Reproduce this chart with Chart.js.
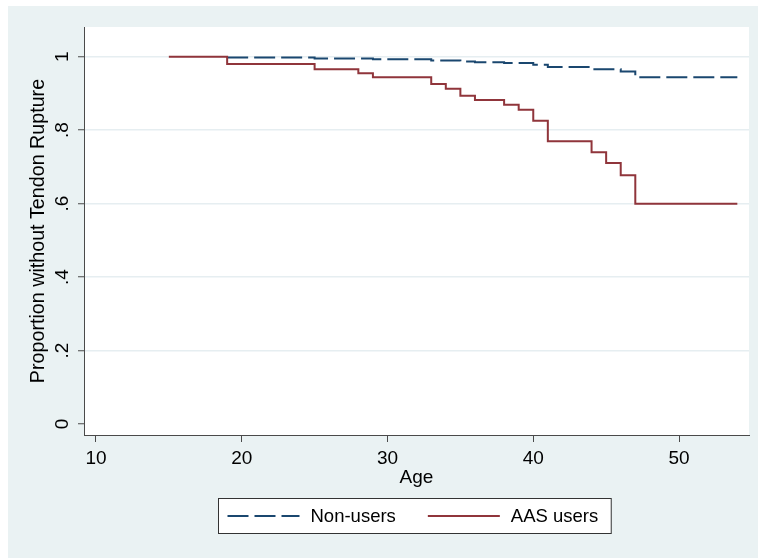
<!DOCTYPE html>
<html>
<head>
<meta charset="utf-8">
<script src="https://cdn.jsdelivr.net/npm/chart.js@4.4.1/dist/chart.umd.min.js"></script>
<style>
  html, body { margin: 0; padding: 0; background: #fff; }
</style>
</head>
<body>
<canvas id="km-chart" width="758" height="558"></canvas>
<script>
// Kaplan-Meier estimates (age, proportion without rupture)
var nonUserAges = [19, 25, 29, 33, 35, 36, 38, 40, 41, 44, 46, 47, 54];
var nonUserSurv = [0.998, 0.995, 0.993, 0.990, 0.987, 0.985, 0.983, 0.978, 0.972, 0.966, 0.960, 0.944, 0.944];

var aasAges = [15, 19, 25, 28, 29, 33, 34, 35, 36, 38, 39, 40, 41, 44, 45, 46, 47, 54];
var aasSurv = [1, 0.980, 0.966, 0.955, 0.944, 0.926, 0.913, 0.894, 0.882, 0.869, 0.856, 0.826, 0.770, 0.740, 0.711, 0.677, 0.600, 0.600];

var xTickValues = [10, 20, 30, 40, 50];
var yTickValues = [0, 0.2, 0.4, 0.6, 0.8, 1];
var yTickLabels = ['0', '.2', '.4', '.6', '.8', '1'];

var FAMILY = '"Liberation Sans", Arial, sans-serif';
var AXIS = '#4a4a4a';
var GRID = '#e6eef1';

function toPoints(xs, ys) {
    return xs.map(function (x, i) { return { x: x, y: ys[i] }; });
}

// grey graph region + white plot region, like Stata s2color
var stataBackground = {
    id: 'stataBackground',
    beforeDraw: function (chart) {
        var ctx = chart.ctx, a = chart.chartArea;
        ctx.save();
        ctx.fillStyle = '#ffffff';
        ctx.fillRect(0, 0, chart.width, chart.height);
        ctx.fillStyle = '#eaf2f3';
        ctx.fillRect(8, 6, chart.width - 8, chart.height - 6);
        ctx.fillStyle = '#ffffff';
        ctx.fillRect(a.left, a.top, a.right - a.left, a.bottom - a.top);
        ctx.restore();
    }
};

// y tick labels are rotated in the original
var rotatedYLabels = {
    id: 'rotatedYLabels',
    afterDraw: function (chart) {
        var ctx = chart.ctx, y = chart.scales.y;
        ctx.save();
        ctx.font = '19px ' + FAMILY;
        ctx.fillStyle = '#000';
        ctx.textAlign = 'center';
        ctx.textBaseline = 'alphabetic';
        yTickValues.forEach(function (v, i) {
            ctx.save();
            ctx.translate(y.right - 16, y.getPixelForValue(v));
            ctx.rotate(-Math.PI / 2);
            ctx.fillText(yTickLabels[i], 0, 0);
            ctx.restore();
        });
        ctx.restore();
    }
};

// boxed legend under the axis
var boxLegend = {
    id: 'boxLegend',
    afterDraw: function (chart) {
        var ctx = chart.ctx, a = chart.chartArea;
        var items = [chart.data.datasets[0], chart.data.datasets[1]];
        var lineLen = 72, padL = 9, gapText = 11, gapItem = 32, padR = 13, h = 35;
        ctx.save();
        ctx.font = '18.5px ' + FAMILY;
        var w = padL;
        items.forEach(function (d, i) {
            w += lineLen + gapText + ctx.measureText(d.label).width + (i < items.length - 1 ? gapItem : padR);
        });
        var left = Math.round((a.left + a.right) / 2 - w / 2) - 1.5;
        var top = Math.round(a.bottom + 63) + 0.5;
        ctx.fillStyle = '#ffffff';
        ctx.fillRect(left, top, w, h);
        ctx.strokeStyle = '#333333';
        ctx.lineWidth = 1;
        ctx.strokeRect(left, top, w, h);

        var cy = top + h / 2;
        var x = left + padL;
        ctx.textBaseline = 'middle';
        ctx.textAlign = 'left';
        items.forEach(function (d) {
            ctx.save();
            ctx.strokeStyle = d.borderColor;
            ctx.lineWidth = d.borderWidth;
            ctx.setLineDash(d.borderDash || []);
            ctx.beginPath();
            ctx.moveTo(x, cy);
            ctx.lineTo(x + lineLen, cy);
            ctx.stroke();
            ctx.restore();
            x += lineLen + gapText;
            ctx.fillStyle = '#000';
            ctx.fillText(d.label, x, cy + 1);
            x += ctx.measureText(d.label).width + gapItem;
        });
        ctx.restore();
    }
};

var ctx = document.getElementById('km-chart').getContext('2d');
new Chart(ctx, {
    type: 'line',
    data: {
        datasets: [{
            label: 'Non-users',
            data: toPoints(nonUserAges, nonUserSurv),
            borderColor: '#1a476f',
            borderWidth: 2,
            borderDash: [21, 6],
            stepped: true,
            pointRadius: 0,
            fill: false,
            order: 1
        },
        {
            label: 'AAS users',
            data: toPoints(aasAges, aasSurv),
            borderColor: '#90353b',
            borderWidth: 2,
            stepped: true,
            pointRadius: 0,
            fill: false,
            order: 0
        }]
    },
    options: {
        responsive: false,
        animation: false,
        layout: { padding: { left: 0, top: 27, right: 9, bottom: 68.6 } },
        plugins: {
            legend: { display: false },
            tooltip: { enabled: false }
        },
        scales: {
            x: {
                type: 'linear',
                min: 9.18,
                max: 54.8,
                afterBuildTicks: function (s) { s.ticks = xTickValues.map(function (v) { return { value: v }; }); },
                afterFit: function (s) { s.height = 54.4; },
                grid: { drawOnChartArea: false, tickLength: 7, tickColor: AXIS, tickWidth: 1 },
                border: { color: AXIS, width: 1 },
                ticks: { font: { family: FAMILY, size: 19 }, color: '#000', padding: 5, maxRotation: 0, autoSkip: false },
                title: { display: true, text: 'Age', font: { family: FAMILY, size: 19 }, color: '#000', padding: { top: 0, bottom: 0 } }
            },
            y: {
                type: 'linear',
                min: -0.03,
                max: 1.081,
                afterBuildTicks: function (s) { s.ticks = yTickValues.map(function (v) { return { value: v }; }); },
                afterFit: function (s) { s.width = 84; },
                grid: {
                    color: function (c) { return c.tick && c.tick.value === 0 ? 'rgba(0,0,0,0)' : GRID; },
                    lineWidth: 1.5,
                    tickLength: 6,
                    tickColor: AXIS,
                    tickWidth: 1
                },
                border: { color: AXIS, width: 1 },
                ticks: { display: false },
                title: { display: true, text: 'Proportion without Tendon Rupture', font: { family: FAMILY, size: 19.7 }, color: '#000', padding: { top: 26.6, bottom: 0 } }
            }
        }
    },
    plugins: [stataBackground, rotatedYLabels, boxLegend]
});
</script>
</body>
</html>
